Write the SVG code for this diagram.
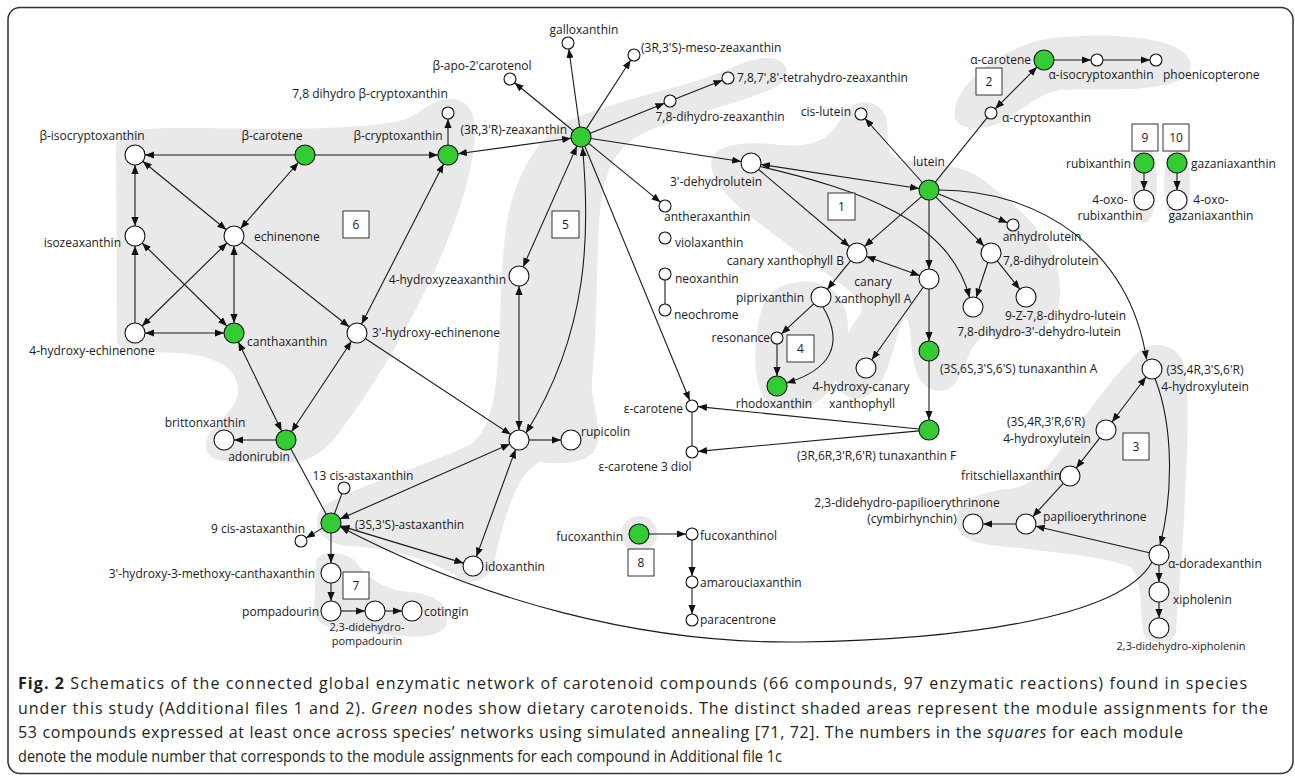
<svg xmlns="http://www.w3.org/2000/svg" width="1295" height="780" viewBox="0 0 1295 780">
<defs>
<marker id="ah" viewBox="0 0 10 8" refX="10" refY="4" markerWidth="9" markerHeight="7.2" markerUnits="userSpaceOnUse" orient="auto-start-reverse"><path d="M0,0 L10,4 L0,8 z" fill="#111"/></marker>
<style>
.m{fill:#e9e9e9;stroke:none}
.e{fill:none;stroke:#1a1a1a;stroke-width:1.1}
.a{marker-end:url(#ah)}
.d{marker-start:url(#ah);marker-end:url(#ah)}
.nw{fill:#fff;stroke:#111;stroke-width:1.1}
.ng{fill:#33cc33;stroke:#111;stroke-width:1.1}
text{font-family:"Open Sans","Liberation Sans",sans-serif;font-size:12px;fill:#1a1a1a}
.mid{text-anchor:middle}
.end{text-anchor:end}
.sm{font-size:11px}
.box rect{fill:#fff;stroke:#333;stroke-width:1}
.box text{text-anchor:middle}
.cap{font-size:16px;fill:#231f20}
</style>
</defs>
<rect x="0" y="0" width="1295" height="780" fill="#fff"/>
<rect x="8" y="7.5" width="1285" height="766" rx="12" fill="none" stroke="#333" stroke-width="1.5"/>

<g id="modules">
<path class="m" d="M116,152 C114,132 135,128 175,128 C250,128 330,132 395,122 C418,118 428,100 448,99 C470,98 478,115 474,145 C470,185 452,235 428,285 C404,335 372,390 335,438 C318,458 302,463 282,463 L222,461 C206,460 202,445 210,433 C222,418 240,405 238,388 C236,365 210,355 178,353 C148,351 122,354 117,342 Z"/>
<path class="m" d="M770,58 C790,60 795,80 770,90 C730,105 690,115 650,130 C615,145 605,170 600,210 C596,260 598,320 592,380 C590,400 600,415 598,440 C596,465 560,465 540,462 C520,470 505,510 495,560 C492,582 465,588 455,575 C430,560 390,548 350,546 C318,545 308,520 325,505 C360,485 420,468 470,445 C490,430 495,400 498,360 C502,300 500,240 512,200 C525,160 540,140 560,125 C600,105 650,95 700,80 C730,70 750,57 770,58 Z"/>
<path class="m" d="M712,170 C705,145 740,140 780,145 C810,148 830,140 840,120 C848,100 875,95 885,115 C892,130 880,150 900,160 C930,165 960,160 990,185 C1020,210 1060,240 1060,290 C1062,330 1020,345 985,335 C965,345 965,385 945,390 C920,395 912,370 910,330 C905,300 900,330 890,360 C880,395 860,405 845,395 C825,380 840,340 860,315 C870,300 840,285 815,265 C770,230 720,200 712,170 Z"/>
<path class="m" d="M792,283 C822,276 850,292 848,332 C846,372 828,410 790,410 C756,410 752,372 757,332 C761,300 770,288 792,283 Z"/>
<path class="m" d="M955,118 C950,95 985,55 1040,40 C1100,30 1200,35 1190,70 C1180,95 1100,88 1060,90 C1030,95 1010,125 985,127 C965,130 957,125 955,118 Z"/>
<ellipse class="m" cx="1144" cy="183" rx="13" ry="40"/>
<ellipse class="m" cx="1177" cy="183" rx="13" ry="40"/>
<path class="m" d="M1135,355 C1150,338 1182,342 1186,372 C1190,420 1186,470 1184,520 C1182,560 1178,600 1176,632 C1174,646 1146,646 1143,632 C1140,600 1142,575 1128,566 C1100,556 1050,552 1000,546 C968,544 954,534 957,518 C960,500 982,491 1010,489 C1032,486 1046,470 1062,448 C1082,420 1112,378 1135,355 Z"/>
<path class="m" d="M316,563 C316,550 345,550 356,562 C366,576 382,590 410,592 C440,594 452,610 446,626 C436,642 400,636 372,633 C340,630 318,630 314,612 Z"/>
<circle class="m" cx="639" cy="534" r="18"/>
</g>

<g id="connectors">
<line class="e a" x1="295" y1="155" x2="145" y2="155"/>
<line class="e a" x1="315" y1="155" x2="438" y2="155"/>
<line class="e a" x1="448" y1="145" x2="448" y2="119"/>
<line class="e d" x1="135" y1="165" x2="135" y2="226"/>
<line class="e d" x1="142.7" y1="161.3" x2="226.3" y2="229.7"/>
<line class="e d" x1="298.4" y1="162.5" x2="240.6" y2="228.5"/>
<line class="e a" x1="135" y1="323" x2="135" y2="246"/>
<line class="e d" x1="142.1" y1="243" x2="226.9" y2="326"/>
<line class="e d" x1="226.9" y1="243" x2="142.1" y2="326"/>
<line class="e d" x1="234" y1="246" x2="234" y2="323"/>
<line class="e a" x1="241.9" y1="242.2" x2="349.1" y2="326.8"/>
<line class="e d" x1="145" y1="333" x2="224" y2="333"/>
<line class="e d" x1="238.4" y1="342" x2="281.6" y2="431"/>
<line class="e d" x1="361.6" y1="324.1" x2="443.5" y2="163.9"/>
<line class="e d" x1="351.5" y1="341.3" x2="291.5" y2="431.7"/>
<line class="e a" x1="276" y1="440" x2="234" y2="440"/>
<line class="e a" x1="365.3" y1="338.5" x2="510.7" y2="434.5"/>
<line class="e" x1="290.8" y1="448.8" x2="326.2" y2="514.2"/>
<line class="e d" x1="571.1" y1="138.3" x2="457.9" y2="153.7"/>
<line class="e a" x1="579.6" y1="127.1" x2="568.8" y2="49"/>
<line class="e a" x1="586.4" y1="128.6" x2="630.7" y2="60"/>
<line class="e a" x1="573.3" y1="130.7" x2="514.6" y2="82.8"/>
<line class="e a" x1="590.3" y1="133.3" x2="664.4" y2="103.3"/>
<line class="e a" x1="675.6" y1="98.8" x2="722.4" y2="80.2"/>
<line class="e a" x1="590.9" y1="138.5" x2="741.1" y2="161.5"/>
<line class="e a" x1="588.7" y1="143.3" x2="660.4" y2="202.2"/>
<line class="e d" x1="576.9" y1="146.1" x2="523.1" y2="266.9"/>
<path class="e d" d="M582.5,147 C590,230 590,330 526,433"/>
<line class="e a" x1="584.8" y1="146.2" x2="689.7" y2="400.5"/>
<line class="e d" x1="519" y1="286" x2="519" y2="430"/>
<line class="e a" x1="529" y1="440" x2="561" y2="440"/>
<line class="e d" x1="515.6" y1="449.4" x2="476.4" y2="556.6"/>
<line class="e d" x1="340.1" y1="519" x2="509.9" y2="444"/>
<line class="e d" x1="340.6" y1="525.9" x2="463.4" y2="563.1"/>
<line class="e" x1="334.5" y1="513.6" x2="341.9" y2="493.6"/>
<line class="e a" x1="322.4" y1="528.1" x2="306.1" y2="537.9"/>
<line class="e a" x1="331" y1="533" x2="331" y2="563"/>
<line class="e a" x1="331" y1="583" x2="331" y2="601"/>
<line class="e a" x1="341" y1="611" x2="365" y2="611"/>
<line class="e a" x1="385" y1="611" x2="402" y2="611"/>
<path class="e a" d="M1152,562 C1120,620 950,640 800,642 C640,644 480,600 340.5,527"/>
<line class="e d" x1="919.1" y1="188.5" x2="760.9" y2="164.5"/>
<line class="e a" x1="758.6" y1="169.5" x2="849.4" y2="246.5"/>
<path class="e a" d="M760.5,166.5 C860,190 950,220 969.5,297.5"/>
<line class="e a" x1="922.3" y1="182.5" x2="865" y2="118.5"/>
<line class="e" x1="935.3" y1="182.2" x2="987.2" y2="117.7"/>
<line class="e d" x1="995.2" y1="108.8" x2="1036.9" y2="67.1"/>
<line class="e a" x1="1054" y1="60" x2="1091" y2="60"/>
<line class="e a" x1="1103" y1="60" x2="1150" y2="60"/>
<line class="e a" x1="921.5" y1="196.6" x2="864.5" y2="246.4"/>
<line class="e a" x1="929" y1="200" x2="929" y2="269"/>
<line class="e d" x1="866.4" y1="256.4" x2="919.6" y2="275.6"/>
<line class="e a" x1="850.7" y1="260.7" x2="827.3" y2="289.3"/>
<line class="e a" x1="813.7" y1="303.8" x2="781.4" y2="333.9"/>
<path class="e a" d="M823,307 C845,345 830,370 786.5,383"/>
<line class="e a" x1="777" y1="344" x2="777" y2="376"/>
<line class="e a" x1="923.2" y1="287.2" x2="871.8" y2="359.8"/>
<line class="e a" x1="929" y1="289" x2="929" y2="341"/>
<line class="e a" x1="929" y1="361" x2="929" y2="420"/>
<line class="e a" x1="919" y1="429" x2="698" y2="406.6"/>
<line class="e a" x1="919" y1="430.9" x2="698" y2="451.4"/>
<line class="e" x1="692" y1="412" x2="692" y2="446"/>
<line class="e" x1="665" y1="280" x2="665" y2="304"/>
<line class="e a" x1="938.2" y1="193.8" x2="1007.5" y2="222.7"/>
<line class="e a" x1="936" y1="197.1" x2="984" y2="245.9"/>
<line class="e a" x1="987.8" y1="262.5" x2="976.2" y2="297.5"/>
<line class="e a" x1="997.2" y1="260.8" x2="1019.8" y2="289.2"/>
<path class="e a" d="M939,190 C1040,190 1130,250 1146.5,359.5"/>
<line class="e d" x1="1146" y1="377" x2="1112" y2="422"/>
<path class="e a" d="M1155,378.5 C1175,430 1172,500 1160,545"/>
<line class="e a" x1="1099.8" y1="437.9" x2="1076.2" y2="468.1"/>
<line class="e a" x1="1063.2" y1="483.4" x2="1032.8" y2="516.6"/>
<line class="e a" x1="1149.3" y1="552.7" x2="1035.7" y2="526.3"/>
<line class="e a" x1="1016" y1="524" x2="983" y2="524"/>
<line class="e a" x1="1159" y1="565" x2="1159" y2="582"/>
<line class="e a" x1="1159" y1="602" x2="1159" y2="618"/>
<line class="e a" x1="1144" y1="173" x2="1144" y2="190"/>
<line class="e a" x1="1177" y1="173" x2="1177" y2="190"/>
<line class="e a" x1="649" y1="534" x2="686" y2="534"/>
<line class="e a" x1="692" y1="540" x2="692" y2="576"/>
<line class="e a" x1="692" y1="588" x2="692" y2="614"/>
</g>

<g id="boxes">
<g class="box" id="box-6"><rect x="343" y="211" width="26" height="27"/><text x="356" y="229">6</text></g>
<g class="box" id="box-5"><rect x="552" y="211" width="27" height="27"/><text x="565.5" y="229">5</text></g>
<g class="box" id="box-1"><rect x="828" y="193" width="27" height="27"/><text x="841.5" y="211">1</text></g>
<g class="box" id="box-2"><rect x="976" y="68" width="26" height="27"/><text x="989" y="86">2</text></g>
<g class="box" id="box-9"><rect x="1132" y="124" width="26" height="27"/><text x="1145" y="142">9</text></g>
<g class="box" id="box-10"><rect x="1163" y="124" width="26" height="27"/><text x="1176" y="142">10</text></g>
<g class="box" id="box-4"><rect x="787" y="335" width="27" height="27"/><text x="800.5" y="353">4</text></g>
<g class="box" id="box-7"><rect x="343" y="572" width="26" height="27"/><text x="356" y="590">7</text></g>
<g class="box" id="box-8"><rect x="628" y="549" width="26" height="27"/><text x="641" y="567">8</text></g>
<g class="box" id="box-3"><rect x="1123" y="433" width="26" height="27"/><text x="1136" y="451">3</text></g>
</g>

<g id="nodes">
<g id="n-beta-isocryptoxanthin"><circle class="nw" cx="135" cy="155" r="10"/><text class="mid" x="92" y="140">β-isocryptoxanthin</text></g>
<g id="n-beta-carotene"><circle class="ng" cx="305" cy="155" r="10"/><text class="mid" x="272" y="140">β-carotene</text></g>
<g id="n-beta-cryptoxanthin"><circle class="ng" cx="448" cy="155" r="10"/><text class="mid" x="398" y="140">β-cryptoxanthin</text></g>
<g id="n-78-dihydro-beta-cryptoxanthin"><circle class="nw" cx="448" cy="113" r="6"/><text class="mid" x="370" y="98">7,8 dihydro β-cryptoxanthin</text></g>
<g id="n-isozeaxanthin"><circle class="nw" cx="135" cy="236" r="10"/><text class="end" x="121" y="247">isozeaxanthin</text></g>
<g id="n-echinenone"><circle class="nw" cx="234" cy="236" r="10"/><text x="254" y="241">echinenone</text></g>
<g id="n-4-hydroxy-echinenone"><circle class="nw" cx="135" cy="333" r="10"/><text class="mid" x="92" y="355">4-hydroxy-echinenone</text></g>
<g id="n-canthaxanthin"><circle class="ng" cx="234" cy="333" r="10"/><text x="247" y="346">canthaxanthin</text></g>
<g id="n-3p-hydroxy-echinenone"><circle class="nw" cx="357" cy="333" r="10"/><text x="372" y="337">3'-hydroxy-echinenone</text></g>
<g id="n-adonirubin"><circle class="ng" cx="286" cy="440" r="10"/><text class="mid" x="259" y="461">adonirubin</text></g>
<g id="n-brittonxanthin"><circle class="nw" cx="224" cy="440" r="10"/><text class="mid" x="205" y="427">brittonxanthin</text></g>
<g id="n-zeaxanthin"><circle class="ng" cx="581" cy="137" r="10"/><text class="end" x="567" y="134">(3R,3'R)-zeaxanthin</text></g>
<g id="n-galloxanthin"><circle class="nw" cx="568" cy="43" r="6"/><text class="mid" x="584" y="34">galloxanthin</text></g>
<g id="n-meso-zeaxanthin"><circle class="nw" cx="634" cy="55" r="6"/><text x="641" y="52">(3R,3'S)-meso-zeaxanthin</text></g>
<g id="n-beta-apo-2p-carotenol"><circle class="nw" cx="510" cy="79" r="6"/><text class="mid" x="482" y="70">β-apo-2'carotenol</text></g>
<g id="n-tetrahydro-zeaxanthin"><circle class="nw" cx="728" cy="78" r="6"/><text x="737" y="82">7,8,7',8'-tetrahydro-zeaxanthin</text></g>
<g id="n-78-dihydro-zeaxanthin"><circle class="nw" cx="670" cy="101" r="6"/><text class="mid" x="720" y="121">7,8-dihydro-zeaxanthin</text></g>
<g id="n-4-hydroxyzeaxanthin"><circle class="nw" cx="519" cy="276" r="10"/><text class="end" x="506" y="284">4-hydroxyzeaxanthin</text></g>
<g id="n-hub"><circle class="nw" cx="519" cy="440" r="10"/></g>
<g id="n-rupicolin"><circle class="nw" cx="571" cy="440" r="10"/><text x="581" y="436">rupicolin</text></g>
<g id="n-idoxanthin"><circle class="nw" cx="473" cy="566" r="10"/><text x="485" y="571">idoxanthin</text></g>
<g id="n-astaxanthin"><circle class="ng" cx="331" cy="523" r="10"/><text x="355" y="529">(3S,3'S)-astaxanthin</text></g>
<g id="n-13-cis-astaxanthin"><circle class="nw" cx="344" cy="488" r="6"/><text class="mid" x="363" y="480">13 cis-astaxanthin</text></g>
<g id="n-9-cis-astaxanthin"><circle class="nw" cx="301" cy="541" r="6"/><text class="mid" x="258" y="533">9 cis-astaxanthin</text></g>
<g id="n-hydroxy-methoxy-canthaxanthin"><circle class="nw" cx="331" cy="573" r="10"/><text class="end" x="315" y="578">3'-hydroxy-3-methoxy-canthaxanthin</text></g>
<g id="n-pompadourin"><circle class="nw" cx="331" cy="611" r="10"/><text class="end" x="319" y="616">pompadourin</text></g>
<g id="n-didehydro-pompadourin"><circle class="nw" cx="375" cy="611" r="10"/><text class="mid sm" x="367" y="631">2,3-didehydro-</text><text class="mid sm" x="367" y="645">pompadourin</text></g>
<g id="n-cotingin"><circle class="nw" cx="412" cy="611" r="10"/><text x="424" y="616">cotingin</text></g>
<g id="n-antheraxanthin"><circle class="nw" cx="665" cy="206" r="6"/><text x="664" y="221">antheraxanthin</text></g>
<g id="n-violaxanthin"><circle class="nw" cx="665" cy="238" r="6"/><text x="675" y="247">violaxanthin</text></g>
<g id="n-neoxanthin"><circle class="nw" cx="665" cy="274" r="6"/><text x="675" y="283">neoxanthin</text></g>
<g id="n-neochrome"><circle class="nw" cx="665" cy="310" r="6"/><text x="674" y="319">neochrome</text></g>
<g id="n-epsilon-carotene"><circle class="nw" cx="692" cy="406" r="6"/><text class="end" x="683" y="413">ε-carotene</text></g>
<g id="n-epsilon-carotene-3-diol"><circle class="nw" cx="692" cy="452" r="6"/><text class="mid" x="645" y="471">ε-carotene 3 diol</text></g>
<g id="n-fucoxanthin"><circle class="ng" cx="639" cy="534" r="10"/><text class="end" x="623" y="541">fucoxanthin</text></g>
<g id="n-fucoxanthinol"><circle class="nw" cx="692" cy="534" r="6"/><text x="700" y="540">fucoxanthinol</text></g>
<g id="n-amarouciaxanthin"><circle class="nw" cx="692" cy="582" r="6"/><text x="700" y="587">amarouciaxanthin</text></g>
<g id="n-paracentrone"><circle class="nw" cx="692" cy="620" r="6"/><text x="700" y="624">paracentrone</text></g>
<g id="n-3p-dehydrolutein"><circle class="nw" cx="751" cy="163" r="10"/><text class="mid" x="716" y="186">3'-dehydrolutein</text></g>
<g id="n-cis-lutein"><circle class="nw" cx="861" cy="114" r="6"/><text class="end" x="851" y="116">cis-lutein</text></g>
<g id="n-lutein"><circle class="ng" cx="929" cy="190" r="10"/><text class="mid" x="929" y="166">lutein</text></g>
<g id="n-canary-xanthophyll-b"><circle class="nw" cx="857" cy="253" r="10"/><text class="end" x="844" y="265">canary xanthophyll B</text></g>
<g id="n-canary-xanthophyll-a"><circle class="nw" cx="929" cy="279" r="10"/><text class="mid" x="873" y="286">canary</text><text class="mid" x="873" y="303">xanthophyll A</text></g>
<g id="n-piprixanthin"><circle class="nw" cx="821" cy="297" r="10"/><text class="end" x="804" y="302">piprixanthin</text></g>
<g id="n-resonance"><circle class="nw" cx="777" cy="338" r="6"/><text class="end" x="770" y="342">resonance</text></g>
<g id="n-rhodoxanthin"><circle class="ng" cx="777" cy="386" r="10"/><text class="mid" x="774" y="408">rhodoxanthin</text></g>
<g id="n-4-hydroxy-canary-xanthophyll"><circle class="nw" cx="866" cy="368" r="10"/><text class="mid" x="861" y="391">4-hydroxy-canary</text><text class="mid" x="862" y="408">xanthophyll</text></g>
<g id="n-tunaxanthin-a"><circle class="ng" cx="929" cy="351" r="10"/><text x="940" y="373">(3S,6S,3'S,6'S) tunaxanthin A</text></g>
<g id="n-tunaxanthin-f"><circle class="ng" cx="929" cy="430" r="10"/><text x="797" y="460">(3R,6R,3'R,6'R) tunaxanthin F</text></g>
<g id="n-anhydrolutein"><circle class="nw" cx="1013" cy="225" r="6"/><text class="mid" x="1042" y="241">anhydrolutein</text></g>
<g id="n-78-dihydrolutein"><circle class="nw" cx="991" cy="253" r="10"/><text x="1003" y="265">7,8-dihydrolutein</text></g>
<g id="n-78-dihydro-3p-dehydro-lutein"><circle class="nw" cx="973" cy="307" r="10"/><text class="mid" x="1039" y="336">7,8-dihydro-3'-dehydro-lutein</text></g>
<g id="n-9z-78-dihydro-lutein"><circle class="nw" cx="1026" cy="297" r="10"/><text x="1005" y="320">9-Z-7,8-dihydro-lutein</text></g>
<g id="n-alpha-carotene"><circle class="ng" cx="1044" cy="60" r="10"/><text class="end" x="1031" y="64">α-carotene</text></g>
<g id="n-alpha-isocryptoxanthin"><circle class="nw" cx="1097" cy="60" r="6"/><text class="mid" x="1101" y="79">α-isocryptoxanthin</text></g>
<g id="n-phoenicopterone"><circle class="nw" cx="1156" cy="60" r="6"/><text x="1163" y="79">phoenicopterone</text></g>
<g id="n-alpha-cryptoxanthin"><circle class="nw" cx="991" cy="113" r="6"/><text x="1002" y="122">α-cryptoxanthin</text></g>
<g id="n-rubixanthin"><circle class="ng" cx="1144" cy="163" r="10"/><text class="end" x="1131" y="168">rubixanthin</text></g>
<g id="n-gazaniaxanthin"><circle class="ng" cx="1177" cy="163" r="10"/><text x="1191" y="168">gazaniaxanthin</text></g>
<g id="n-4-oxo-rubixanthin"><circle class="nw" cx="1144" cy="200" r="10"/><text class="mid" x="1110" y="204">4-oxo-</text><text class="mid" x="1110" y="220">rubixanthin</text></g>
<g id="n-4-oxo-gazaniaxanthin"><circle class="nw" cx="1177" cy="200" r="10"/><text class="mid" x="1211" y="204">4-oxo-</text><text class="mid" x="1211" y="220">gazaniaxanthin</text></g>
<g id="n-4-hydroxylutein-3s4r3ps6pr"><circle class="nw" cx="1152" cy="369" r="10"/><text class="mid" x="1205" y="374">(3S,4R,3'S,6'R)</text><text class="mid" x="1205" y="391">4-hydroxylutein</text></g>
<g id="n-4-hydroxylutein-3s4r3pr6pr"><circle class="nw" cx="1106" cy="430" r="10"/><text class="mid" x="1046" y="426">(3S,4R,3'R,6'R)</text><text class="mid" x="1047" y="443">4-hydroxylutein</text></g>
<g id="n-fritschiellaxanthin"><circle class="nw" cx="1070" cy="476" r="10"/><text class="end" x="1061" y="480">fritschiellaxanthin</text></g>
<g id="n-papilioerythrinone"><circle class="nw" cx="1026" cy="524" r="10"/><text x="1043" y="521">papilioerythrinone</text></g>
<g id="n-cymbirhynchin"><circle class="nw" cx="973" cy="524" r="10"/><text class="mid" x="907" y="507">2,3-didehydro-papilioerythrinone</text><text class="mid" x="912" y="523">(cymbirhynchin)</text></g>
<g id="n-alpha-doradexanthin"><circle class="nw" cx="1159" cy="555" r="10"/><text x="1168" y="568">α-doradexanthin</text></g>
<g id="n-xipholenin"><circle class="nw" cx="1159" cy="592" r="10"/><text x="1173" y="604">xipholenin</text></g>
<g id="n-didehydro-xipholenin"><circle class="nw" cx="1159" cy="628" r="10"/><text class="mid sm" x="1181" y="650">2,3-didehydro-xipholenin</text></g>
</g>

<g id="caption">
<text class="cap" x="18" y="689" textLength="1229" lengthAdjust="spacing"><tspan font-weight="bold">Fig. 2</tspan> Schematics of the connected global enzymatic network of carotenoid compounds (66 compounds, 97 enzymatic reactions) found in species</text>
<text class="cap" x="18" y="714" textLength="1250" lengthAdjust="spacing">under this study (Additional files 1 and 2). <tspan font-style="italic">Green</tspan> nodes show dietary carotenoids. The distinct shaded areas represent the module assignments for the</text>
<text class="cap" x="18" y="738" textLength="1165" lengthAdjust="spacing">53 compounds expressed at least once across species’ networks using simulated annealing [71, 72]. The numbers in the <tspan font-style="italic">squares</tspan> for each module</text>
<text class="cap" x="18" y="762" textLength="764" lengthAdjust="spacingAndGlyphs">denote the module number that corresponds to the module assignments for each compound in Additional file 1c</text>
</g>
</svg>
